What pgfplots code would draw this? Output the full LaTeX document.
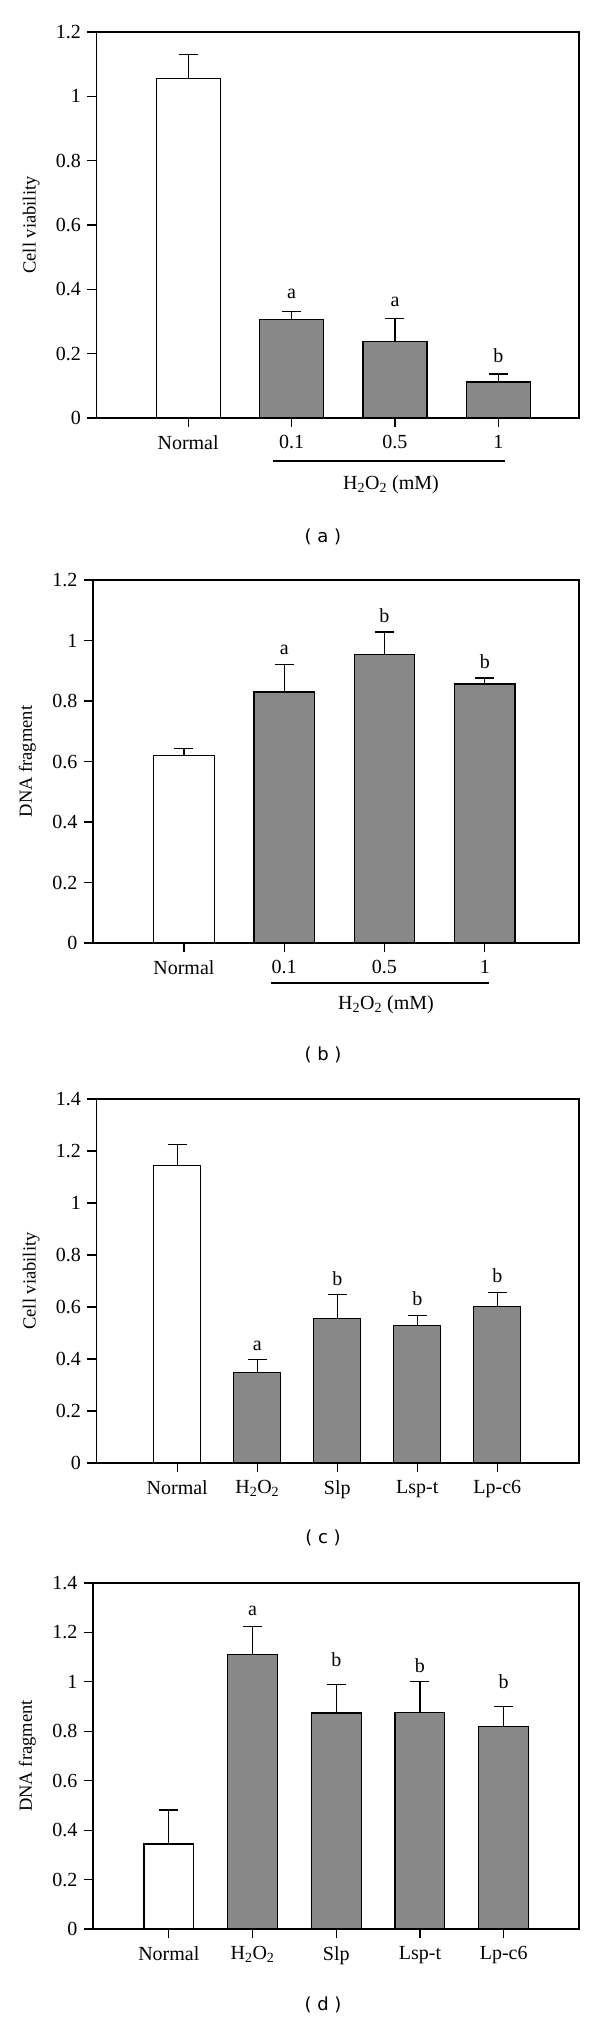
\documentclass[border=0pt]{standalone}
\usepackage{pgfplots}
\pgfplotsset{compat=1.18}
\usepackage{fontspec}
\setmainfont{Liberation Serif}
\newfontfamily\capfont{DejaVu Sans}
\definecolor{bargray}{RGB}{136,136,136}
\pgfplotsset{
  panel/.style={
    scale only axis, anchor=south west, ybar, bar shift=0pt, clip=false,
    axis line style={line width=1.6pt},
    tick pos=left, tick align=outside, major tick length=9pt,
    tick style={line width=1.2pt, black},
    ymin=0,
    /pgf/number format/assume math mode=true,
    ticklabel style={font=\fontsize{20}{24}\selectfont},
    xticklabel style={yshift=-5pt},
    yticklabel style={xshift=-3pt},
    label style={font=\fontsize{18.5}{22}\selectfont},
    ylabel style={at={(axis description cs:-0.135,0.5)}, anchor=center},
  },
  eb/.style={error bars/.cd, y dir=plus, y explicit,
    error mark options={rotate=90, black, line width=1.2pt, mark size=9.5pt},
    error bar style={line width=1.2pt, black}},
  wbar/.style={draw=black, fill=white, line width=1.2pt, eb},
  gbar/.style={draw=black, fill=bargray, line width=1.2pt, eb},
}
\newcommand{\lt}[1]{\fontsize{20}{24}\selectfont #1}
\newcommand{\cp}[1]{\fontsize{18}{21}\capfont #1}
\begin{document}
\begin{tikzpicture}[x=1pt,y=1pt]
\useasboundingbox (0,0) rectangle (600,-2019);
% ---------- (a)
\begin{axis}[panel, at={(96.4pt,-418pt)}, width=482.6pt, height=386pt,
  xmin=-0.887, xmax=3.78, ymax=1.2, ytick={0,0.2,0.4,0.6,0.8,1,1.2},
  xtick={0,1,2,3}, xticklabels={Normal,0.1,0.5,1}, bar width=64pt, ylabel={Cell viability}]
\addplot[wbar] coordinates {(0,1.056) +- (0,0.075)};
\addplot[gbar] coordinates {(1,0.307) +- (0,0.025) (2,0.238) +- (0,0.072) (3,0.112) +- (0,0.025)};
\node[anchor=base] at (axis cs:1,0.371) {\lt{a}};
\node[anchor=base] at (axis cs:2,0.346) {\lt{a}};
\node[anchor=base] at (axis cs:3,0.174) {\lt{b}};
\end{axis}
\draw[line width=1.2pt] (272.5,-461) -- (505,-461);
\node at (391,-485) {\lt{H\textsubscript{2}O\textsubscript{2} (mM)}};
\node at (323,-537) {\cp{( a )}};
% ---------- (b)
\begin{axis}[panel, at={(93pt,-943pt)}, width=486pt, height=363pt,
  xmin=-0.907, xmax=3.94, ymax=1.2, ytick={0,0.2,0.4,0.6,0.8,1,1.2},
  xtick={0,1,2,3}, xticklabels={Normal,0.1,0.5,1}, bar width=60.5pt, ylabel={DNA fragment}]
\addplot[wbar] coordinates {(0,0.620) +- (0,0.022)};
\addplot[gbar] coordinates {(1,0.830) +- (0,0.090) (2,0.955) +- (0,0.073) (3,0.856) +- (0,0.020)};
\node[anchor=base] at (axis cs:1,0.955) {\lt{a}};
\node[anchor=base] at (axis cs:2,1.059) {\lt{b}};
\node[anchor=base] at (axis cs:3,0.908) {\lt{b}};
\end{axis}
\draw[line width=1.2pt] (270.6,-983) -- (489,-983);
\node at (386,-1005) {\lt{H\textsubscript{2}O\textsubscript{2} (mM)}};
\node at (323,-1055) {\cp{( b )}};
% ---------- (c)
\begin{axis}[panel, at={(96.4pt,-1463pt)}, width=482.6pt, height=364pt,
  xmin=-1.01, xmax=5.02, ymax=1.4, ytick={0,0.2,0.4,0.6,0.8,1,1.2,1.4},
  xtick={0,1,2,3,4}, xticklabels={Normal,{H\textsubscript{2}O\textsubscript{2}},Slp,Lsp-t,Lp-c6}, bar width=47pt, ylabel={Cell viability}]
\addplot[wbar] coordinates {(0,1.143) +- (0,0.081)};
\addplot[gbar] coordinates {(1,0.347) +- (0,0.052) (2,0.556) +- (0,0.091) (3,0.528) +- (0,0.040) (4,0.602) +- (0,0.053)};
\node[anchor=base] at (axis cs:1,0.434) {\lt{a}};
\node[anchor=base] at (axis cs:2,0.681) {\lt{b}};
\node[anchor=base] at (axis cs:3,0.605) {\lt{b}};
\node[anchor=base] at (axis cs:4,0.694) {\lt{b}};
\end{axis}
\node at (323,-1538) {\cp{( c )}};
% ---------- (d)
\begin{axis}[panel, at={(93pt,-1929pt)}, width=486pt, height=346pt,
  xmin=-0.906, xmax=4.90, ymax=1.4, ytick={0,0.2,0.4,0.6,0.8,1,1.2,1.4},
  xtick={0,1,2,3,4}, xticklabels={Normal,{H\textsubscript{2}O\textsubscript{2}},Slp,Lsp-t,Lp-c6}, bar width=49.8pt, ylabel={DNA fragment}]
\addplot[wbar] coordinates {(0,0.344) +- (0,0.138)};
\addplot[gbar] coordinates {(1,1.111) +- (0,0.114) (2,0.874) +- (0,0.115) (3,0.877) +- (0,0.125) (4,0.820) +- (0,0.081)};
\node[anchor=base] at (axis cs:1,1.269) {\lt{a}};
\node[anchor=base] at (axis cs:2,1.063) {\lt{b}};
\node[anchor=base] at (axis cs:3,1.036) {\lt{b}};
\node[anchor=base] at (axis cs:4,0.974) {\lt{b}};
\end{axis}
\node at (323,-2005) {\cp{( d )}};
\end{tikzpicture}
\end{document}
